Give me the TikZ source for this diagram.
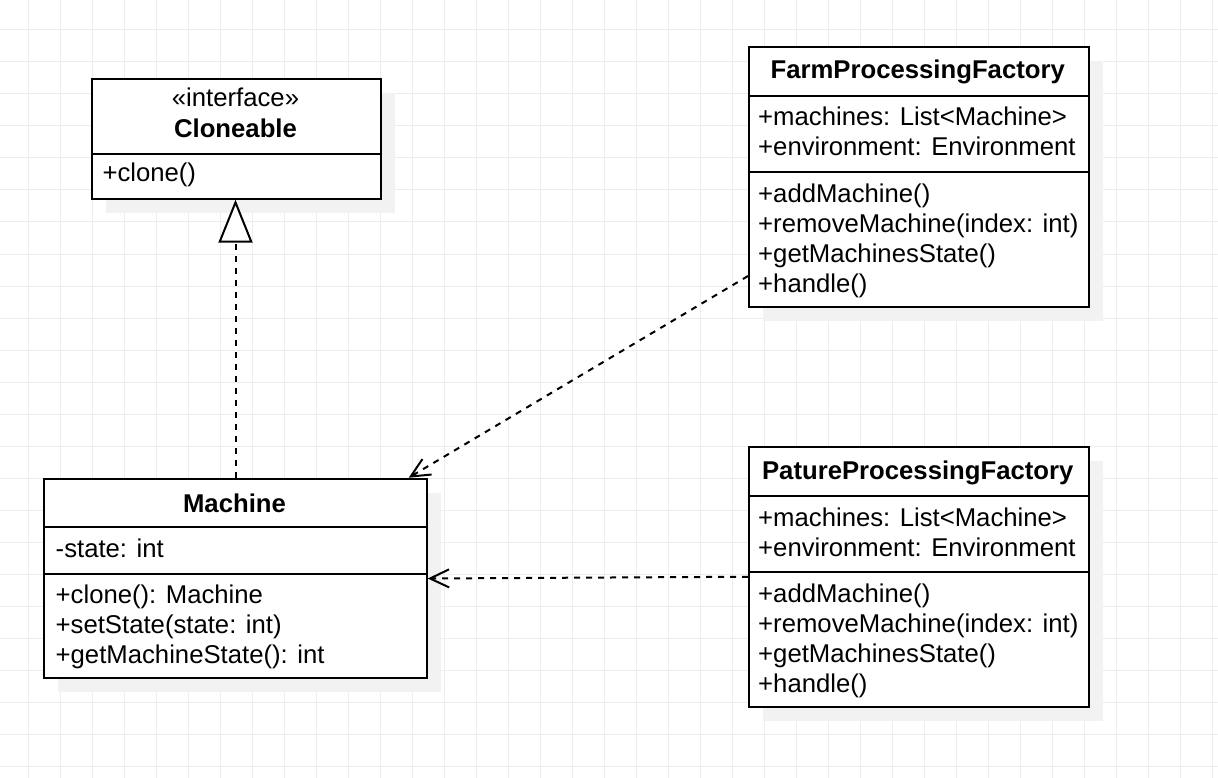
\documentclass[tikz,border=0pt]{standalone}
\usepackage{fontspec}
\setmainfont{Liberation Sans}
\usetikzlibrary{arrows.meta,shadows}
\definecolor{gridc}{HTML}{EDEDED}
\definecolor{shadowc}{HTML}{F2F2F2}
\tikzset{
  umlbox/.style={draw=black, line width=2pt, fill=white, inner sep=0pt, anchor=north west,
    drop shadow={shadow xshift=14pt, shadow yshift=-14pt, fill=shadowc, opacity=1, draw=none}},
  sepline/.style={line width=2pt},
  txt/.style={inner sep=0pt, anchor=base west, font=\fontsize{25.7}{30}\selectfont},
  ctxt/.style={inner sep=0pt, anchor=base, font=\fontsize{25.7}{30}\selectfont},
  btxt/.style={inner sep=0pt, anchor=base, font=\fontsize{25.7}{30}\selectfont\bfseries},
  depline/.style={line width=2pt, dash pattern=on 6pt off 6pt},
  opentip/.style={-{Straight Barb[length=19pt,width=18pt,line width=2pt]}},
  realtip/.style={-{Triangle[length=43pt,width=34pt,fill=white,line width=2pt]}},
}
\begin{document}
\begin{tikzpicture}[x=1pt,y=-1pt]
\useasboundingbox (0,0) rectangle (1218,778);
\fill[white] (0,0) rectangle (1218,778);
% grid
\foreach \gx in {28,60,...,1212} \draw[gridc, line width=1pt] (\gx,0) -- (\gx,778);
\foreach \gy in {30,62,...,766} \draw[gridc, line width=1pt] (0,\gy) -- (1218,\gy);

% Cloneable
\node[umlbox, minimum width=289pt, minimum height=119.4pt] (clone) at (91,78.3) {};
\draw[sepline] (91,154.3) -- (380,154.3);
\node[ctxt] (cl1) at (235.5,107) {«interface»};
\node[btxt] (cl2) at (235.5,138) {Cloneable};
\node[txt] (cl3) at (102.3,182) {+clone()};

% Machine
\node[umlbox, minimum width=382.4pt, minimum height=199.6pt] (mach) at (43.3,477.7) {};
\draw[sepline] (43.3,527.3) -- (425.7,527.3);
\draw[sepline] (43.3,573.7) -- (425.7,573.7);
\node[btxt] (m0) at (234.5,512) {Machine};
\node[txt] (m1) at (55.5,557) {-state: int};
\node[txt] (m2) at (55.5,603) {+clone(): Machine};
\node[txt] (m3) at (55.5,633) {+setState(state: int)};
\node[txt] (m4) at (55.5,663) {+getMachineState(): int};

% FarmProcessingFactory
\node[umlbox, minimum width=339.5pt, minimum height=259.5pt] (farm) at (748,46) {};
\draw[sepline] (748,95.7) -- (1087.5,95.7);
\draw[sepline] (748,171.7) -- (1087.5,171.7);
\node[btxt] (f0) at (917.75,79) {FarmProcessingFactory};
\node[txt] (f1) at (758,126) {+machines: List<Machine>};
\node[txt] (f2) at (758,156) {+environment: Environment};
\node[txt] (f3) at (758,202.7) {+addMachine()};
\node[txt] (f4) at (758,232.7) {+removeMachine(index: int)};
\node[txt] (f5) at (758,262.7) {+getMachinesState()};
\node[txt] (f6) at (758,292.7) {+handle()};

% PatureProcessingFactory
\node[umlbox, minimum width=339.5pt, minimum height=259.5pt] (pat) at (748,446) {};
\draw[sepline] (748,495.7) -- (1087.5,495.7);
\draw[sepline] (748,571.7) -- (1087.5,571.7);
\node[btxt] (p0) at (917.75,479) {PatureProcessingFactory};
\node[txt] (p1) at (758,526) {+machines: List<Machine>};
\node[txt] (p2) at (758,556) {+environment: Environment};
\node[txt] (p3) at (758,602.7) {+addMachine()};
\node[txt] (p4) at (758,632.7) {+removeMachine(index: int)};
\node[txt] (p5) at (758,662.7) {+getMachinesState()};
\node[txt] (p6) at (758,692.7) {+handle()};

% connectors
\coordinate (farmout) at ([yshift=31.5pt]farm.south west);
\coordinate (machin) at ([xshift=-19pt]mach.north east);
\draw[depline, realtip] (mach.north) -- (mach.north |- clone.south);
\draw[depline, opentip] (farmout) -- (machin);
\draw[depline, opentip] (pat.west) -- (mach.east);
\end{tikzpicture}
\end{document}
